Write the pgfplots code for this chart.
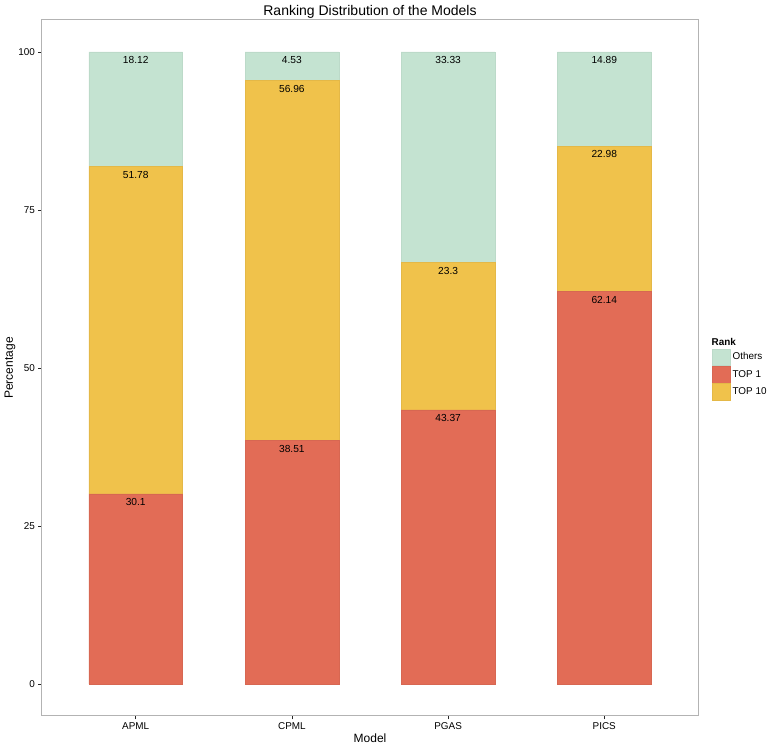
\documentclass[border=0pt]{standalone}
\usepackage{pgfplots}
\pgfplotsset{compat=1.18}
\usepackage{fontspec}
\setmainfont{Liberation Sans}
\definecolor{cOth}{HTML}{C4E3D1}
\definecolor{cTopA}{HTML}{E26C56}
\definecolor{cTopB}{HTML}{F0C24B}
\definecolor{frameg}{HTML}{B3B3B3}
\begin{document}
\begin{tikzpicture}
\useasboundingbox (-42pt,-33pt) rectangle (730pt,716pt);
\begin{axis}[
  at={(0,0)}, anchor=south west,
  scale only axis, width=656pt, height=696pt,
  ybar stacked, bar width=0.6,
  xmin=0.4, xmax=4.6, ymin=-5.06, ymax=105.06,
  xtick={1,2,3,4}, xticklabels={APML,CPML,PGAS,PICS},
  ytick={0,25,50,75,100},
  tick align=outside, xtick pos=lower, ytick pos=left,
  major tick length=3.5pt,
  tick style={black!85, line width=0.6pt},
  axis line style={frameg, line width=1pt},
  /pgf/number format/assume math mode=true,
  ticklabel style={font=\fontsize{9.9}{11}\selectfont, black},
  title={Ranking Distribution of the Models},
  title style={font=\fontsize{14}{16}\selectfont, at={(axis description cs:0.5,1)}, anchor=south, inner sep=0pt, yshift=-5pt},
  xlabel={Model},
  ylabel={Percentage},
  xlabel style={font=\fontsize{12}{14}\selectfont, at={([yshift=-22pt]axis description cs:0.5,0)}, anchor=center},
  ylabel style={font=\fontsize{12}{14}\selectfont, at={([xshift=-32pt]axis description cs:0,0.5)}, anchor=center},
  legend style={at={(axis description cs:1,0.5)}, anchor=west, xshift=14pt, draw=none, fill=none,
    row sep=0pt, column sep=0pt, inner sep=0pt, font=\fontsize{9.9}{11}\selectfont},
  legend cell align=left,
]
\addlegendimage{empty legend}
\addlegendentry{\hspace*{-21pt}\textbf{Rank}}
\addlegendimage{legend image code/.code={\draw[fill=cOth, draw=cOth!96!black, line width=0.4pt] (0pt,-8.4pt) rectangle (18pt,8.4pt);}}
\addlegendentry{Others}
\addlegendimage{legend image code/.code={\draw[fill=cTopA, draw=cTopA!95!black, line width=0.4pt] (0pt,-8.4pt) rectangle (18pt,8.4pt);}}
\addlegendentry{TOP 1}
\addlegendimage{legend image code/.code={\draw[fill=cTopB, draw=cTopB!95!black, line width=0.4pt] (0pt,-8.4pt) rectangle (18pt,8.4pt);}}
\addlegendentry{TOP 10}

\addplot[fill=cTopA, draw=cTopA!95!black, line width=0.4pt] table[x=x, y=y] {
x y
1 30.1
2 38.51
3 43.37
4 62.14
};
\addplot[fill=cTopB, draw=cTopB!95!black, line width=0.4pt] table[x=x, y=y] {
x y
1 51.78
2 56.96
3 23.3
4 22.98
};
\addplot[fill=cOth, draw=cOth!96!black, line width=0.4pt] table[x=x, y=y] {
x y
1 18.12
2 4.53
3 33.33
4 14.89
};
\end{axis}
% value labels at the top of each segment (cumulative heights)
\begin{axis}[
  at={(0,0)}, anchor=south west,
  scale only axis, width=656pt, height=696pt,
  xmin=0.4, xmax=4.6, ymin=-5.06, ymax=105.06,
  hide axis,
  nodes near coords,
  point meta=explicit symbolic,
  every node near coord/.append style={font=\fontsize{10.2}{11}\selectfont, black, anchor=north, yshift=-3.5pt, inner sep=1pt},
]
\addplot[only marks, mark=none] table[x=x, y=top, meta=l] {
x top l
1 30.1 30.1
2 38.51 38.51
3 43.37 43.37
4 62.14 62.14
1 81.88 51.78
2 95.47 56.96
3 66.67 23.3
4 85.12 22.98
1 100 18.12
2 100 4.53
3 100 33.33
4 100 14.89
};
\end{axis}
\end{tikzpicture}
\end{document}
